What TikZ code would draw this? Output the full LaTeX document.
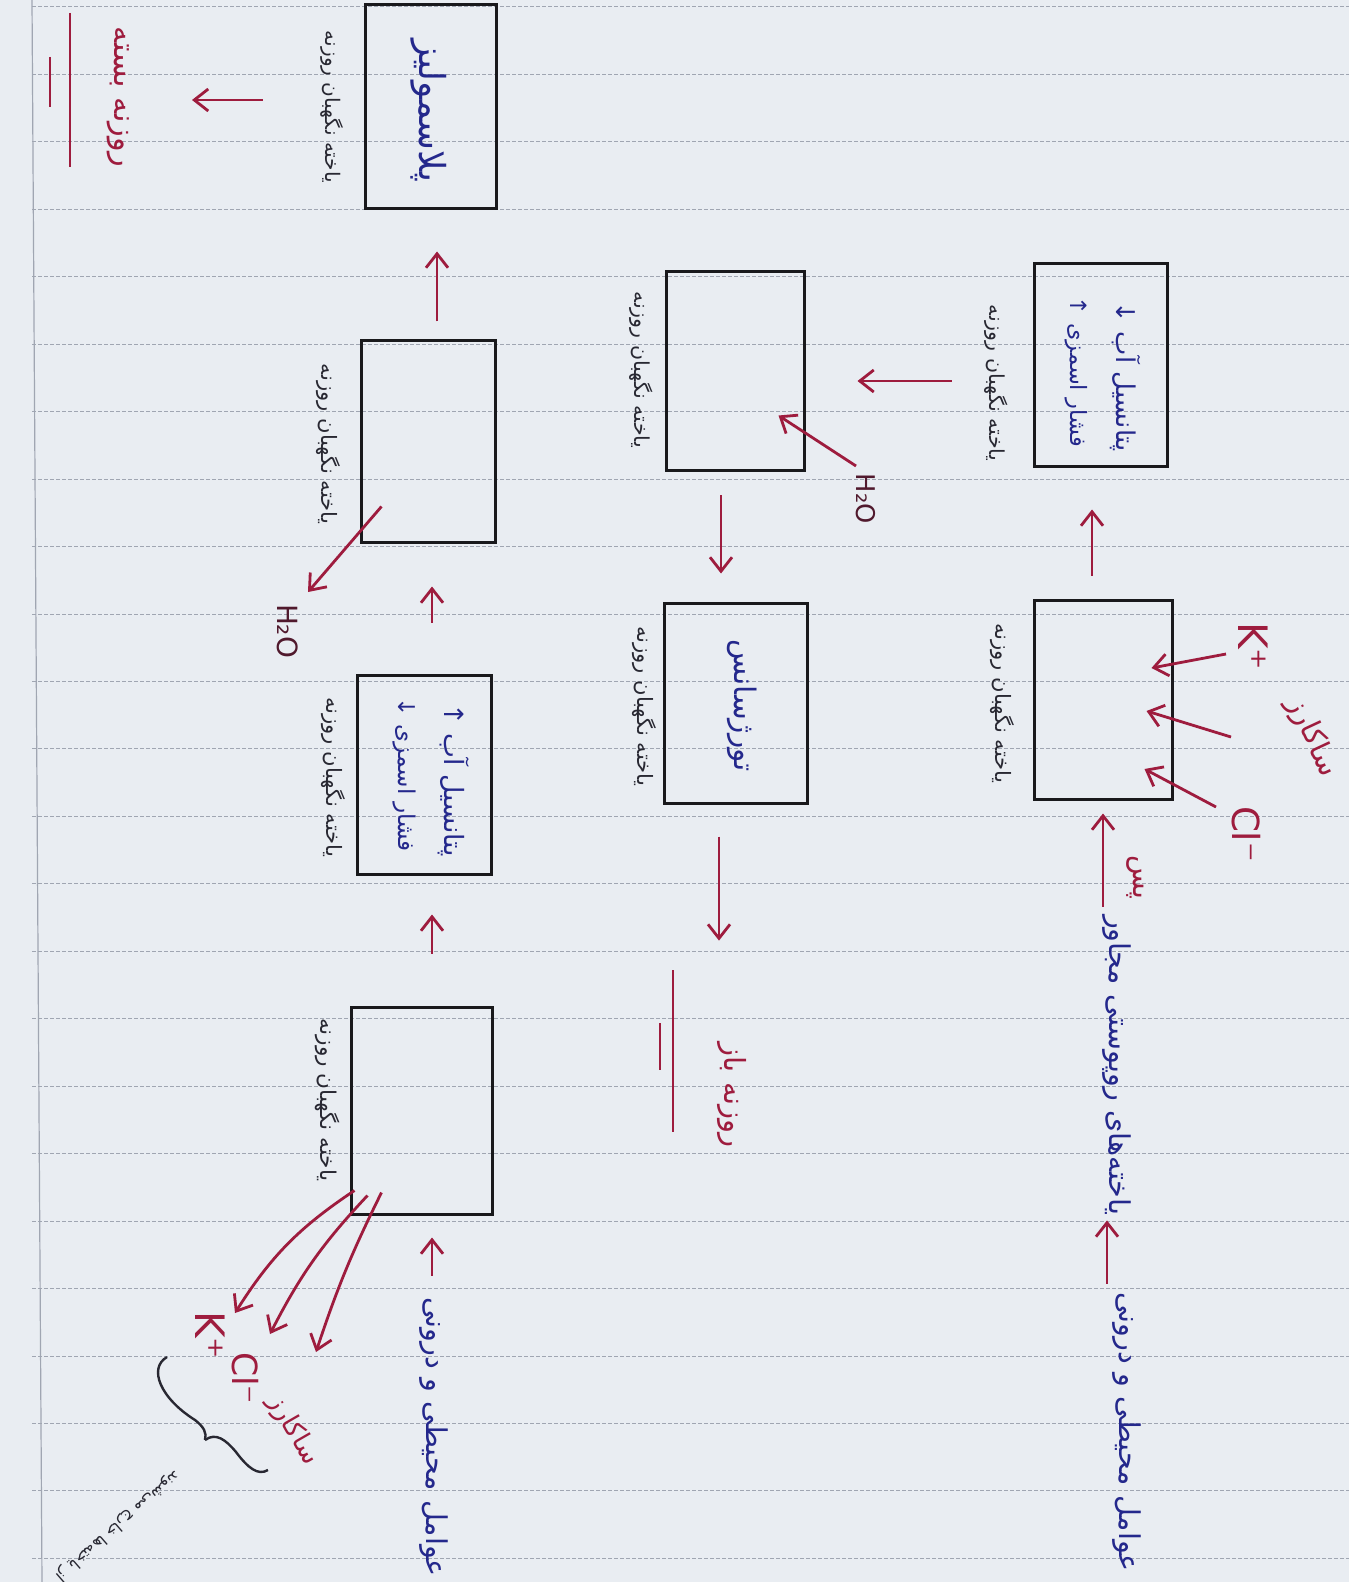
\documentclass[tikz,border=0pt]{standalone}
\usepackage{fontspec}
\usepackage{graphicx}
\usetikzlibrary{arrows.meta,calc}
\TeXXeTstate=1
\newfontfamily\farsi[Script=Arabic]{DejaVu Sans}
\newfontfamily\dejavu{DejaVu Sans}
\definecolor{bgc}{RGB}{233,237,242}
\definecolor{redink}{RGB}{158,28,62}
\definecolor{blueink}{RGB}{36,40,140}
\definecolor{boxc}{RGB}{25,25,28}
\definecolor{labc}{RGB}{40,40,50}
\definecolor{rulec}{RGB}{160,166,178}
\definecolor{darkred}{RGB}{80,25,45}
\newcommand\fatext[2]{\resizebox{#1}{!}{\farsi #2}}
\newcommand\latxt[2]{\resizebox{#1}{!}{\dejavu #2}}
\begin{document}
\begin{tikzpicture}[x=0.5pt,y=-0.5pt,
  cell/.style={draw=boxc, line width=1.5pt, inner sep=0pt},
  arr/.style={draw=redink, line width=1.4pt, -{Straight Barb[length=7pt,width=11pt]}},
  lbl/.style={rotate=-90, inner sep=0pt, text=labc},
  btxt/.style={rotate=-90, inner sep=0pt, text=blueink},
  rtxt/.style={rotate=-90, inner sep=0pt, text=redink},
  htxt/.style={rotate=-90, inner sep=0pt, text=darkred},
  ruleline/.style={draw=rulec, line width=0.5pt, dash pattern=on 2pt off 1pt},
  uline/.style={draw=redink, line width=1.4pt},
  bracec/.style={draw=labc, line width=1.2pt}]
\fill[bgc] (0,0) rectangle (1349,1582);
\useasboundingbox (0,0) rectangle (1349,1582);
% notebook ruling
\foreach \k in {0,...,23}{\draw[ruleline] (32,{7+67.45*\k}) -- (1349,{7+67.45*\k});}
\draw[draw=rulec, line width=0.6pt] (32,0) -- (42,1582);

% boxes
\node[cell, minimum width=69pt, minimum height=99.5pt] (R1) at (1103,699.5) {};
\node[cell, minimum width=66.5pt, minimum height=101.5pt] (R2) at (1100.5,365.5) {};
\node[cell, minimum width=69pt, minimum height=99.5pt] (M1) at (735,371.5) {};
\node[cell, minimum width=71.5pt, minimum height=100pt] (M2) at (735.5,703) {};
\node[cell, minimum width=70.5pt, minimum height=103.5pt] (L1) at (421.5,1110.5) {};
\node[cell, minimum width=67pt, minimum height=99.5pt] (L2) at (424,774.5) {};
\node[cell, minimum width=67pt, minimum height=100.5pt] (L3) at (428,441.5) {};
\node[cell, minimum width=65.5pt, minimum height=102pt] (L4) at (430.5,107) {};

% box labels
\node[lbl] (lR1) at (1002,703) {\fatext{80pt}{\beginR یاخته نگهبان روزنه\endR}};
\node[lbl] (lR2) at (996,383) {\fatext{78pt}{\beginR یاخته نگهبان روزنه\endR}};
\node[lbl] (lM1) at (641,370) {\fatext{78pt}{\beginR یاخته نگهبان روزنه\endR}};
\node[lbl] (lM2) at (644,706) {\fatext{80pt}{\beginR یاخته نگهبان روزنه\endR}};
\node[lbl] (lL1) at (328,1100) {\fatext{82pt}{\beginR یاخته نگهبان روزنه\endR}};
\node[lbl] (lL2) at (333,777) {\fatext{80pt}{\beginR یاخته نگهبان روزنه\endR}};
\node[lbl] (lL3) at (328,444) {\fatext{80pt}{\beginR یاخته نگهبان روزنه\endR}};
\node[lbl] (lL4) at (332,107) {\fatext{76pt}{\beginR یاخته نگهبان روزنه\endR}};

% box contents
\node[btxt] (R2a) at (1125,377) {\fatext{75pt}{\beginR پتانسیل آب ↓\endR}};
\node[btxt] (R2b) at (1076,372) {\fatext{75pt}{\beginR فشار اسمزی ↑\endR}};
\node[btxt] (L2a) at (454,780) {\fatext{77pt}{\beginR پتانسیل آب ↑\endR}};
\node[btxt] (L2b) at (404,775) {\fatext{77pt}{\beginR فشار اسمزی ↓\endR}};
\node[btxt] (M2t) at (742,706) {\fatext{66pt}{\beginR تورژسانس\endR}};
\node[btxt] (L4t) at (429,111) {\fatext{71pt}{\beginR پلاسمولیز\endR}};

% right column text
\node[btxt] (txR1) at (1127,1432) {\fatext{140pt}{\beginR عوامل محیطی و درونی\endR}};
\node[btxt] (txR2) at (1117,1065) {\fatext{150pt}{\beginR یاخته‌های روپوستی مجاور\endR}};
\node[rtxt] (pas) at (1135,877) {\fatext{22pt}{\beginR پس\endR}};
% left column text
\node[btxt] (txL1) at (434,1437) {\fatext{140pt}{\beginR عوامل محیطی و درونی\endR}};

% results
\node[rtxt] (open) at (732,1095) {\fatext{53pt}{\beginR روزنه باز\endR}};
\draw[uline] (673,970) -- (673,1132);
\draw[uline] (660,1023) -- (660,1070);
\node[rtxt] (closed) at (118,97) {\fatext{70pt}{\beginR روزنه بسته\endR}};
\draw[uline] (70,13) -- (70,167);
\draw[uline] (50,57) -- (50,107);

% ions and water labels
\node[rtxt] (KpR) at (1253,646) {\latxt{24pt}{K⁺}};
\node[rtxt] (ClR) at (1246,834) {\latxt{28pt}{Cl⁻}};
\node[rotate=-65, inner sep=0pt, text=redink] (sucR) at (1312,737) {\fatext{42pt}{\beginR ساکارز\endR}};
\node[rtxt] (KpL) at (210,1335) {\latxt{24pt}{K⁺}};
\node[rtxt] (ClL) at (245,1378) {\latxt{26pt}{Cl⁻}};
\node[rotate=-60, inner sep=0pt, text=redink] (sucL) at (293,1430) {\fatext{38pt}{\beginR ساکارز\endR}};
\node[htxt] (H2OR) at (866,499) {\latxt{25pt}{H₂O}};
\node[htxt] (H2OL) at (288,631) {\latxt{27pt}{H₂O}};

% note with brace
\draw[bracec] (167,1357) .. controls (148,1368) and (160,1398) .. (195,1420) .. controls (204,1427) and (207,1433) .. (205,1440);
\draw[bracec] (205,1440) .. controls (216,1432) and (226,1440) .. (236,1452) .. controls (248,1468) and (258,1476) .. (268,1470);
\node[rotate=-139, inner sep=0pt, text=labc] (note) at (118,1526) {\fatext{80pt}{\beginR از یاخته‌ها خارج می‌شوند\endR}};

% connectors, right column
\draw[arr] ($(txR1.west)+(-20,-8)$) -- ($(txR2.east)+(-10,5)$);
\draw[arr] ($(txR2.west)+(-14,-8)$) -- ($(R1.south)+(0,13)$);
\draw[arr] ($(KpR)+(-27,8)$) -- ($(R1.east)+(-22,-31.5)$);
\draw[arr] ($(sucR)+(-81,0)$) -- ($(R1.east)+(-27,11.5)$);
\draw[arr] ($(ClR)+(-30,-27)$) -- ($(R1.east)+(-29,69.5)$);
\draw[arr] ($(R1.north)+(-11,-23)$) -- ($(R2.south)+(-8.5,41)$);
\draw[arr] ($(R2.west)+(-81,15.5)$) -- ($(M1.east)+(52,9.5)$);
\draw[arr] ($(H2OR)+(-10,-33)$) -- ($(M1.south east)+(-27,-57)$);
\draw[arr] ($(M1.south)+(-14,23)$) -- ($(M2.north)+(-14.5,-28)$);
\draw[arr] ($(M2.south)+(-16.5,32)$) -- ($(open.west)+(-13,-101)$);

% connectors, left column
\draw[arr] ($(txL1.west)+(-2,-21)$) -- ($(L1.south)+(10.5,22)$);
\draw[arr] ($(L1.south west)+(5,-25)$) to[bend right=12] ($(KpL)+(25,-22)$);
\draw[arr] ($(L1.south west)+(18,-20)$) to[bend right=8] ($(ClL)+(25,-44)$);
\draw[arr] ($(L1.south west)+(32,-23)$) to[bend right=4] ($(sucL)+(23,-78)$);
\draw[arr] ($(L1.north)+(10.5,-52)$) -- ($(L2.south)+(8,39)$);
\draw[arr] ($(L2.north)+(8,-51)$) -- ($(L3.south)+(4,43)$);
\draw[arr] ($(L3.south west)+(22,-37)$) -- ($(H2OL)+(20,-39)$);
\draw[arr] ($(L3.north)+(9,-18)$) -- ($(L4.south)+(6.5,41)$);
\draw[arr] ($(L4.west)+(-101,-7)$) -- ($(closed)+(74,3)$);
\end{tikzpicture}
\end{document}
